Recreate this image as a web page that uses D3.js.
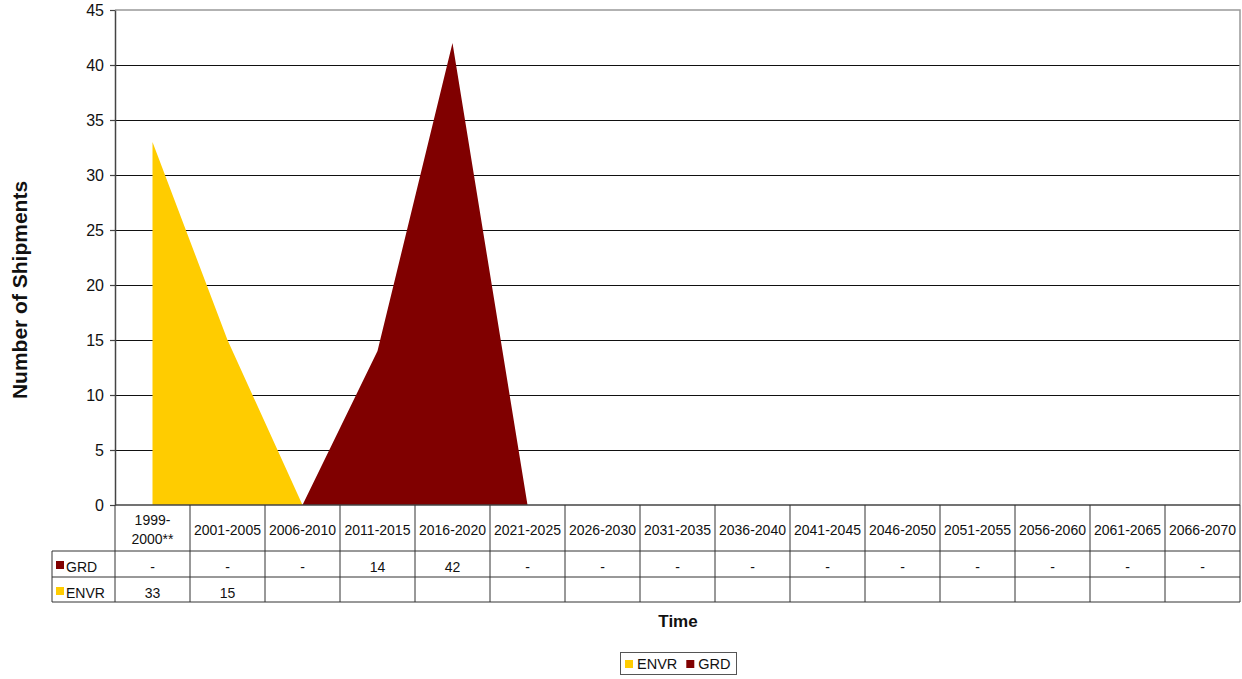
<!DOCTYPE html>
<html><head><meta charset="utf-8">
<script src="https://cdn.jsdelivr.net/npm/d3@7"></script>
<style>body{margin:0;background:#fff}svg{display:block;font-family:"Liberation Sans",Arial,sans-serif}</style>
</head><body><svg id="c" width="1242" height="679"></svg>
<script>
const categories = ["1999-2000**","2001-2005","2006-2010","2011-2015","2016-2020","2021-2025","2026-2030","2031-2035","2036-2040","2041-2045","2046-2050","2051-2055","2056-2060","2061-2065","2066-2070"];
const envr = [33,15,null,null,null,null,null,null,null,null,null,null,null,null,null];
const grd = [0,0,0,14,42,0,0,0,0,0,0,0,0,0,0];
const yTicks = [0,5,10,15,20,25,30,35,40,45];
const seriesNames = ["ENVR","GRD"];
const colors = {ENVR:"#FFCC00", GRD:"#800000"};

const svg = d3.select("#c");
const L=115, R=1240, T=10, B=505;
const x = d3.scaleBand().domain(categories).range([L,R]);
const y = d3.scaleLinear().domain([0,45]).range([B,T]);
const cx = c => x(c)+x.bandwidth()/2;

// gridlines
svg.append("g").selectAll("line").data(yTicks.filter(d=>d>0&&d<45)).join("line")
  .attr("x1",L).attr("x2",R).attr("y1",d=>Math.round(y(d))+0.5).attr("y2",d=>Math.round(y(d))+0.5)
  .attr("stroke","#111").attr("stroke-width",1.2);

// areas (stacked: ENVR bottom, GRD on top)
const stackData = categories.map((c,i)=>({cat:c, ENVR: envr[i]==null?0:envr[i], GRD: grd[i]}));
const stack = d3.stack().keys(seriesNames)(stackData);
const area = d3.area().x(d=>cx(d.data.cat)).y0(d=>y(d[0])).y1(d=>y(d[1]));
svg.append("g").selectAll("path").data(stack).join("path")
  .attr("d",area).attr("fill",d=>colors[d.key]);

// plot border top & right
svg.append("path").attr("d",`M${L},${T}H${R}V${B}`).attr("fill","none").attr("stroke","#999").attr("stroke-width",1.5);

// y axis
const ya = svg.append("g").attr("transform",`translate(${L},0)`)
  .call(d3.axisLeft(y).tickValues(yTicks).tickSize(5).tickSizeOuter(0).tickPadding(6));
ya.select(".domain").attr("stroke","#444").attr("stroke-width",1.5);
ya.selectAll(".tick line").attr("stroke","#444").attr("stroke-width",1.2);
ya.selectAll("text").attr("font-size",16).attr("fill","#111").attr("font-family","Liberation Sans, Arial, sans-serif");

// data table
const tbl = svg.append("g");
const lineC = "#333";
tbl.append("line").attr("x1",L).attr("x2",R).attr("y1",B).attr("y2",B).attr("stroke","#444").attr("stroke-width",1.5);
[551,577,602].forEach(yy=>tbl.append("line").attr("x1",52).attr("x2",R).attr("y1",yy).attr("y2",yy).attr("stroke",lineC).attr("stroke-width",1));
const bounds = categories.map(c=>x(c)).concat([R]);
tbl.selectAll("line.v").data(bounds).join("line").attr("class","v")
  .attr("x1",d=>d).attr("x2",d=>d).attr("y1",B).attr("y2",602).attr("stroke",lineC).attr("stroke-width",1);
tbl.append("line").attr("x1",52).attr("x2",52).attr("y1",551).attr("y2",602).attr("stroke",lineC).attr("stroke-width",1);
categories.forEach(c=>{
  const t = tbl.append("text").attr("x",cx(c)).attr("text-anchor","middle").attr("font-size",14).attr("fill","#111");
  if(c.includes("**")){
    const parts = c.split("-");
    t.append("tspan").attr("x",cx(c)).attr("y",525).text(parts[0]+"-");
    t.append("tspan").attr("x",cx(c)).attr("y",544).text(parts[1]);
  } else {
    t.attr("y",535).text(c);
  }
});
const rows = [{name:"GRD", vals:grd.map(v=>v===0?"-":String(v)), y0:551},{name:"ENVR", vals:envr.map(v=>v==null?"":String(v)), y0:577}];
rows.forEach(r=>{
  tbl.append("rect").attr("x",56).attr("y",r.y0+10).attr("width",8).attr("height",8).attr("fill",colors[r.name]);
  tbl.append("text").attr("x",66).attr("y",r.y0+20.5).attr("font-size",14).attr("fill","#111").text(r.name);
  categories.forEach((c,i)=>{
    tbl.append("text").attr("x",cx(c)).attr("y",r.y0+20.5).attr("text-anchor","middle").attr("font-size",14).attr("fill","#111").text(r.vals[i]);
  });
});

// axis titles
svg.append("text").attr("transform","translate(27,290) rotate(-90)").attr("text-anchor","middle")
  .attr("font-size",21).attr("font-weight","bold").attr("fill","#111").text("Number of Shipments");
svg.append("text").attr("x",678).attr("y",627).attr("text-anchor","middle")
  .attr("font-size",17).attr("font-weight","bold").attr("fill","#111").text("Time");

// legend
const lg = svg.append("g");
lg.append("rect").attr("x",620.5).attr("y",652.5).attr("width",116).attr("height",22).attr("fill","#fff").attr("stroke","#555").attr("stroke-width",1);
let lx = 625;
seriesNames.forEach(n=>{
  lg.append("rect").attr("x",lx).attr("y",660).attr("width",8).attr("height",8).attr("fill",colors[n]);
  const t = lg.append("text").attr("x",lx+12).attr("y",669).attr("font-size",14.5).attr("fill","#111").text(n);
  lx += 12 + t.node().getComputedTextLength() + 9;
});
</script></body></html>
